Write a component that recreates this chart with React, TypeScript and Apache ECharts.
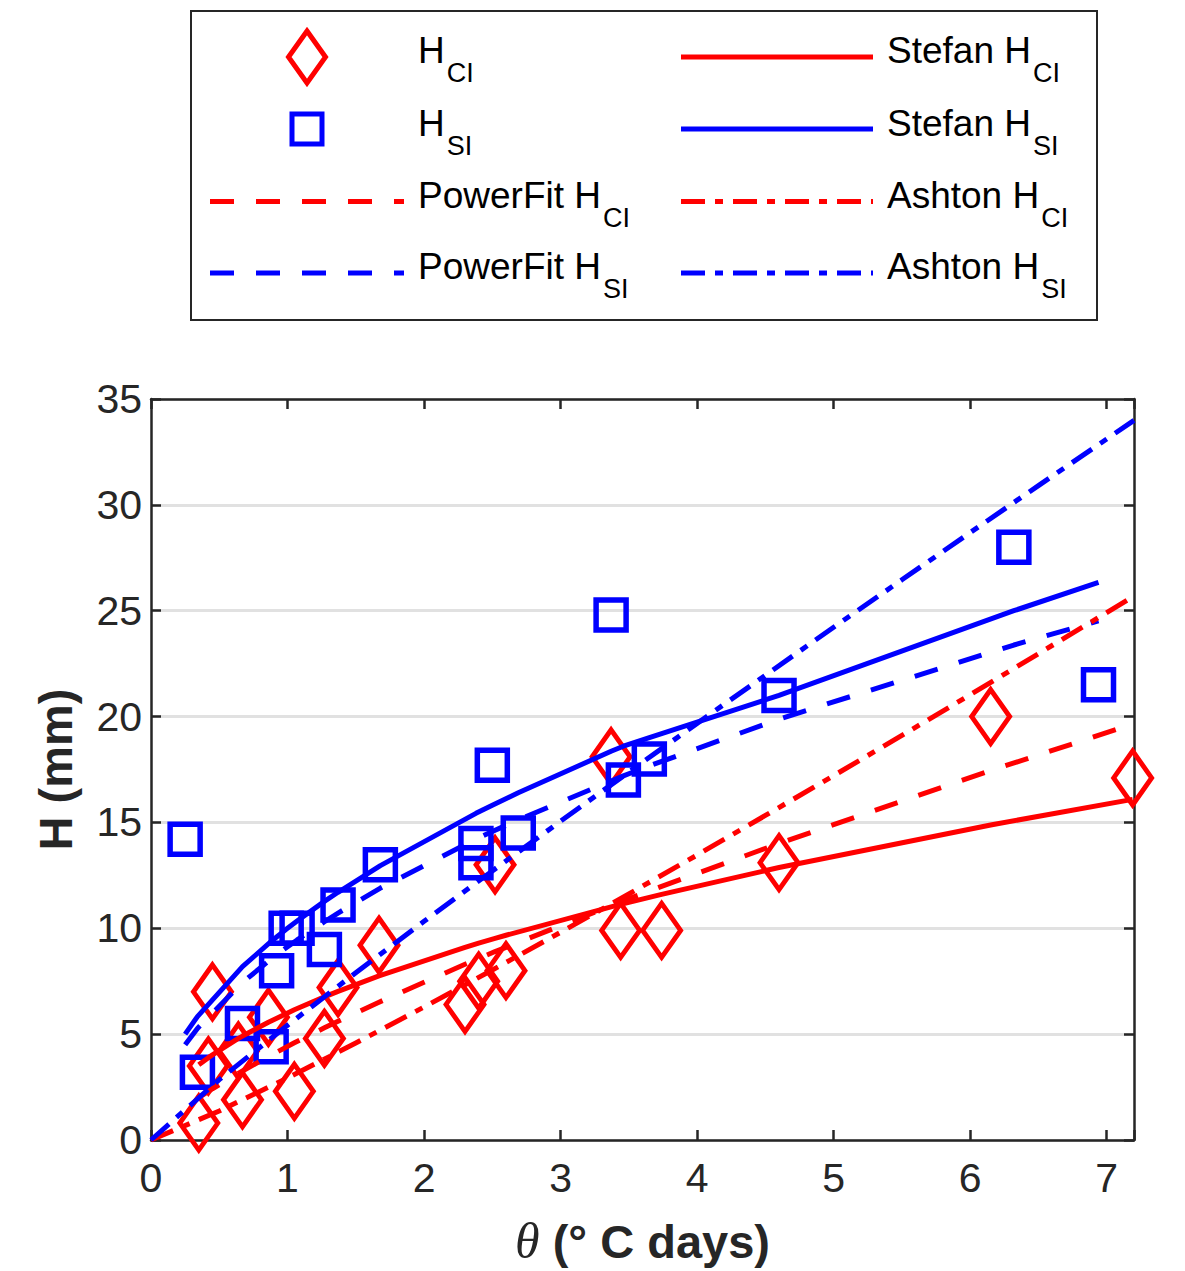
import React, { useEffect, useRef } from "react";
import * as echarts from "echarts";

// ---- measured data (H_CI: red diamonds, H_SI: blue squares) ----
const thetaCI = [0.35, 0.42, 0.45, 0.64, 0.67, 0.86, 1.05, 1.27, 1.37, 1.67, 2.3, 2.4, 2.6, 2.52, 3.37, 3.44, 3.74, 4.6, 6.15, 7.19];
const hCI = [0.8, 3.5, 7.0, 4.2, 1.9, 5.8, 2.3, 4.8, 7.2, 9.2, 6.4, 7.5, 8.0, 13.0, 18.1, 9.9, 9.9, 13.1, 20.0, 17.1];

const thetaSI = [0.25, 0.34, 0.67, 0.88, 0.92, 0.99, 1.07, 1.27, 1.37, 1.68, 2.38, 2.38, 2.5, 2.69, 3.37, 3.46, 3.65, 4.6, 6.32, 6.94];
const hSI = [14.2, 3.2, 5.5, 4.4, 8.0, 10.0, 10.0, 9.0, 11.1, 13.0, 14.0, 13.1, 17.7, 14.5, 24.8, 17.0, 18.0, 21.0, 28.0, 21.5];

// ---- model curves ----
const lineThetaCI = [0.35, 0.42, 0.45, 0.64, 0.67, 0.86, 1.05, 1.27, 1.37, 1.67, 2.3, 2.4, 2.52, 2.6, 3.37, 3.44, 3.74, 4.6, 6.15, 7.19];
const stefanCI = [3.55, 3.89, 4.02, 4.8, 4.91, 5.56, 6.15, 6.76, 7.02, 7.75, 9.1, 9.3, 9.52, 9.67, 11.01, 11.13, 11.6, 12.87, 14.88, 16.09];
const powerCI = [2.0, 2.29, 2.42, 3.15, 3.26, 3.94, 4.59, 5.3, 5.61, 6.51, 8.3, 8.57, 8.9, 9.1, 11.07, 11.25, 11.98, 14.01, 17.45, 19.64];

const lineThetaSI = [0.25, 0.34, 0.67, 0.88, 0.92, 0.99, 1.07, 1.27, 1.37, 1.68, 2.38, 2.5, 2.69, 3.37, 3.46, 3.65, 4.6, 6.32, 6.94];
const stefanSI = [5.0, 5.83, 8.19, 9.38, 9.59, 9.95, 10.34, 11.27, 11.7, 12.96, 15.43, 15.81, 16.4, 18.36, 18.6, 19.0, 21.0, 25.0, 26.34];
const powerSI = [4.5, 5.27, 7.44, 8.55, 8.75, 9.08, 9.45, 10.31, 10.72, 11.9, 14.21, 14.57, 15.12, 16.96, 17.2, 17.67, 19.88, 23.38, 24.52];

const ashtonTheta = [0, 0.5, 1, 1.5, 2, 2.5, 3, 3.5, 4, 4.5, 5, 5.5, 6, 6.5, 7, 7.2];
const ashtonCI = [0, 1.37, 2.93, 4.58, 6.28, 8.03, 9.81, 11.62, 13.46, 15.33, 17.21, 19.11, 21.03, 22.97, 24.91, 25.7];
const ashtonSI = [0, 2.85, 5.42, 7.9, 10.33, 12.71, 15.06, 17.38, 19.68, 21.95, 24.22, 26.46, 28.69, 30.91, 33.11, 33.99];

const xTicks = [0, 1, 2, 3, 4, 5, 6, 7];
const yTicks = [0, 5, 10, 15, 20, 25, 30, 35];

const FONT = '"Liberation Sans", Arial, Helvetica, sans-serif';
const RED = "#ff0000";
const BLUE = "#0000ff";
const AXIS = "#262626";
const DASH = [24, 22];
const DASHDOT = [24, 10, 8, 10];

const zip = (xs: number[], ys: number[]) => xs.map((x, i) => [x, ys[i]]);

function measure(text: string, size: number) {
  const ctx = document.createElement("canvas").getContext("2d")!;
  ctx.font = `${size}px ${FONT}`;
  return ctx.measureText(text).width;
}

type LegendItem = { col: number; row: number; kind: string; color: string; main: string; sub: string };
const legendItems: LegendItem[] = [
  { col: 0, row: 0, kind: "diamond", color: RED, main: "H", sub: "CI" },
  { col: 0, row: 1, kind: "square", color: BLUE, main: "H", sub: "SI" },
  { col: 0, row: 2, kind: "dashed", color: RED, main: "PowerFit H", sub: "CI" },
  { col: 0, row: 3, kind: "dashed", color: BLUE, main: "PowerFit H", sub: "SI" },
  { col: 1, row: 0, kind: "solid", color: RED, main: "Stefan H", sub: "CI" },
  { col: 1, row: 1, kind: "solid", color: BLUE, main: "Stefan H", sub: "SI" },
  { col: 1, row: 2, kind: "dashdot", color: RED, main: "Ashton H", sub: "CI" },
  { col: 1, row: 3, kind: "dashdot", color: BLUE, main: "Ashton H", sub: "SI" },
];

function buildLegend() {
  const els: any[] = [];
  els.push({
    type: "rect",
    shape: { x: 191, y: 11, width: 906, height: 309 },
    style: { fill: "#ffffff", stroke: AXIS, lineWidth: 2 },
    z: 10,
  });
  const rowY = [57, 129, 201.5, 273];
  const textY = [50, 123, 195, 266];
  const lineX = [
    [210, 404],
    [681, 873],
  ];
  const textX = [418, 887];
  const mainSize = 37;
  const subSize = 27;
  legendItems.forEach((it) => {
    const y = rowY[it.row];
    const [x1, x2] = lineX[it.col];
    const cx = (x1 + x2) / 2;
    if (it.kind === "diamond") {
      els.push({
        type: "polygon",
        shape: { points: [[cx, y - 26], [cx + 18.5, y], [cx, y + 26], [cx - 18.5, y]] },
        style: { fill: "none", stroke: it.color, lineWidth: 5, lineJoin: "miter" },
        z: 11,
      });
    } else if (it.kind === "square") {
      els.push({
        type: "rect",
        shape: { x: cx - 15, y: y - 15, width: 30, height: 30 },
        style: { fill: "none", stroke: it.color, lineWidth: 5, lineJoin: "miter" },
        z: 11,
      });
    } else {
      const dash = it.kind === "dashed" ? DASH : it.kind === "dashdot" ? DASHDOT : null;
      els.push({
        type: "line",
        shape: { x1, y1: y, x2, y2: y },
        style: { stroke: it.color, lineWidth: 5, lineDash: dash, lineCap: "butt" },
        z: 11,
      });
    }
    const tx = textX[it.col];
    const ty = textY[it.row];
    els.push({
      type: "text",
      x: tx,
      y: ty,
      style: { text: it.main, fontSize: mainSize, fontFamily: FONT, fill: "#000", align: "left", verticalAlign: "middle" },
      z: 11,
    });
    const w = measure(it.main, mainSize);
    els.push({
      type: "text",
      x: tx + w + 2,
      y: ty + 23,
      style: { text: it.sub, fontSize: subSize, fontFamily: FONT, fill: "#000", align: "left", verticalAlign: "middle" },
      z: 11,
    });
  });
  return els;
}

function axisCommon(show: boolean) {
  return {
    axisLine: { show: true, onZero: false, lineStyle: { color: AXIS, width: 2.5 } },
    axisTick: { show: true, inside: true, length: 10, lineStyle: { color: AXIS, width: 2.5 } },
    axisLabel: { show, color: AXIS, fontFamily: FONT, fontSize: 41 },
  };
}

export default function App() {
  const ref = useRef<HTMLDivElement>(null);
  useEffect(() => {
    if (!ref.current) return;
    const chart = echarts.init(ref.current, undefined, { renderer: "svg" });
    const lineSeries = (name: string, xs: number[], ys: number[], color: string, type: any) => ({
      name,
      type: "line",
      data: zip(xs, ys),
      showSymbol: false,
      symbol: "none",
      clip: false,
      z: 3,
      lineStyle: { color, width: 5, type, cap: "butt", join: "round", opacity: 1 },
    });
    const xBase: any = {
      type: "value",
      min: 0,
      max: 7.2,
      interval: 1,
      splitLine: { show: false },
    };
    const yBase: any = {
      type: "value",
      min: 0,
      max: 35,
      interval: 5,
    };
    chart.setOption({
      animation: false,
      backgroundColor: "#ffffff",
      grid: { left: 151, right: 51, top: 399, bottom: 131, containLabel: false },
      xAxis: [
        {
          ...xBase,
          ...axisCommon(true),
          position: "bottom",
          axisLabel: {
            show: true,
            color: AXIS,
            fontFamily: FONT,
            fontSize: 41,
            margin: 17,
            formatter: (v: number) => (xTicks.includes(v) ? String(v) : ""),
          },
          name: "{t|θ}{n| (° C days)}",
          nameLocation: "middle",
          nameGap: 76,
          nameTextStyle: {
            rich: {
              t: { fontFamily: '"Liberation Serif", "DejaVu Serif", serif', fontStyle: "italic", fontSize: 50, color: AXIS },
              n: { fontFamily: FONT, fontWeight: "bold", fontSize: 47, color: AXIS },
            },
          },
        },
        { ...xBase, ...axisCommon(false), position: "top" },
      ],
      yAxis: [
        {
          ...yBase,
          ...axisCommon(true),
          position: "left",
          axisLabel: {
            show: true,
            color: AXIS,
            fontFamily: FONT,
            fontSize: 41,
            margin: 9,
            formatter: (v: number) => (yTicks.includes(v) ? String(v) : ""),
          },
          splitLine: { show: true, lineStyle: { color: "#e1e1e1", width: 3 } },
          name: "H (mm)",
          nameLocation: "middle",
          nameGap: 72,
          nameTextStyle: { fontFamily: FONT, fontWeight: "bold", fontSize: 47, color: AXIS },
        },
        { ...yBase, ...axisCommon(false), position: "right", splitLine: { show: false } },
      ],
      graphic: buildLegend(),
      series: [
        {
          name: "H_CI",
          type: "scatter",
          data: zip(thetaCI, hCI),
          symbol: "diamond",
          symbolSize: [38, 54],
          clip: false,
          z: 2,
          itemStyle: { color: "rgba(0,0,0,0)", borderColor: RED, borderWidth: 5, borderJoin: "miter", opacity: 1 },
        },
        {
          name: "H_SI",
          type: "scatter",
          data: zip(thetaSI, hSI),
          symbol: "rect",
          symbolSize: 30,
          clip: false,
          z: 2,
          itemStyle: { color: "rgba(0,0,0,0)", borderColor: BLUE, borderWidth: 5.5, borderJoin: "miter", opacity: 1 },
        },
        lineSeries("Stefan H_CI", lineThetaCI, stefanCI, RED, "solid"),
        lineSeries("Stefan H_SI", lineThetaSI, stefanSI, BLUE, "solid"),
        lineSeries("PowerFit H_CI", lineThetaCI, powerCI, RED, DASH),
        lineSeries("PowerFit H_SI", lineThetaSI, powerSI, BLUE, DASH),
        lineSeries("Ashton H_CI", ashtonTheta, ashtonCI, RED, DASHDOT),
        lineSeries("Ashton H_SI", ashtonTheta, ashtonSI, BLUE, DASHDOT),
      ],
    });
    return () => chart.dispose();
  }, []);
  return (
    <div
      ref={ref}
      style={{ position: "absolute", left: 0, top: 0, width: 1185, height: 1271, background: "#fff" }}
    />
  );
}
